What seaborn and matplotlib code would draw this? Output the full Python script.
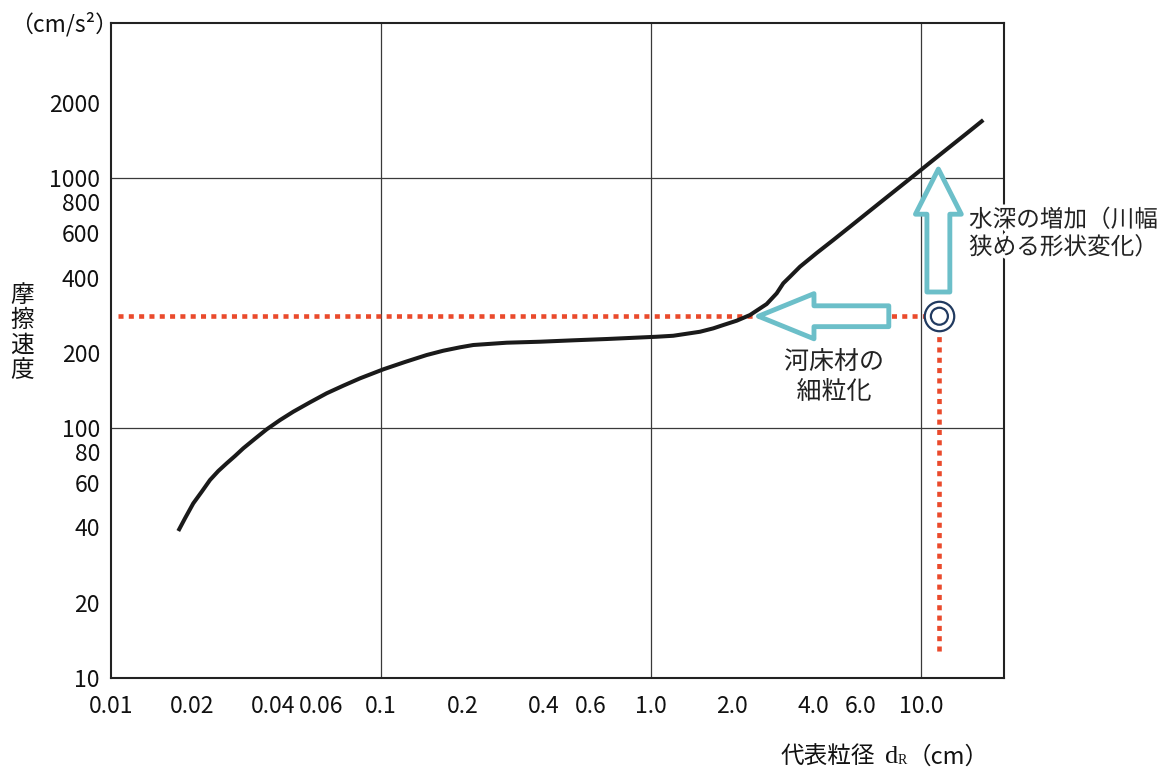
import matplotlib
matplotlib.use("Agg")
import matplotlib.pyplot as plt
import matplotlib.patheffects as pe
from matplotlib.ticker import NullLocator
import numpy as np
import pandas as pd
import seaborn as sns

# ---------------- data ----------------
grain_cm = [0.01775, 0.01880, 0.02017, 0.02168, 0.02326, 0.02497, 0.02682,
            0.02879, 0.0309, 0.03415, 0.03773, 0.04227, 0.04733, 0.05458,
            0.06293, 0.07251, 0.0836, 0.102, 0.1227, 0.1477, 0.1701, 0.1962,
            0.2197, 0.2921, 0.388, 0.5157, 0.6853, 1.050, 1.209, 1.519,
            1.701, 1.853, 2.077, 2.326, 2.682, 2.921, 3.090, 3.272, 3.563,
            4.109, 4.733, 5.458, 6.293, 7.251, 8.360, 9.640, 11.10, 12.80,
            14.77, 17.01]
friction_vel = [38.73, 43.54, 49.96, 55.62, 61.94, 67.30, 72.24,
                77.27, 82.95, 90.62, 98.81, 107.6, 116.2, 126.7,
                137.7, 147.7, 158.0, 171.7, 183.7, 195.9, 203.8, 210.3,
                214.8, 219.4, 221.4, 224.3, 227.0, 231.8, 233.9, 242.7,
                250.4, 258.2, 268.7, 283.1, 313.3, 345.7, 379.2, 402.9, 441.8,
                501.2, 564.9, 638.6, 722.4, 816.6, 923.1, 1044.0, 1180.0, 1334.0,
                1509.0, 1706.0]

# present state (reference point) and guide lines
point_x = [11.7]
point_y = [280.0]
hline_x = [0.0106, 11.7]
hline_y = [280.0, 280.0]
vline_x = [11.7, 11.7]
vline_y = [280.0, 12.2]

# arrows: (tail, tip)
arrow_left_x = [7.6, 2.5]
arrow_left_y = [280.0, 280.0]
arrow_up_x = [11.6, 11.6]
arrow_up_y = [350.0, 1086.0]

x_ticks = [0.01, 0.02, 0.04, 0.06, 0.08, 0.1, 0.2, 0.4, 0.6, 0.8,
           1, 2, 4, 6, 8, 10]
x_ticklabels = ["0.01", "0.02", "0.04", "0.06", "", "0.1", "0.2", "0.4",
                "0.6", "", "1.0", "2.0", "4.0", "6.0", "", "10.0"]
y_ticks = [10, 20, 40, 60, 80, 100, 200, 400, 600, 800, 1000, 2000]
y_ticklabels = ["10", "20", "40", "60", "80", "100", "200", "400", "600",
                "800", "1000", "2000"]
grid_x = [0.1, 1, 10]
grid_y = [100, 1000]

x_limits = (0.01, 20.3)
y_limits = (10, 4170)

# ---------------- style ----------------
sns.set_theme(style="white")
plt.rcParams['font.family'] = ['Noto Sans CJK JP', 'DejaVu Sans']

W, H = 1175, 776
fig = plt.figure(figsize=(W / 100, H / 100), dpi=100)
ax = fig.add_axes([111 / W, 98 / H, 893 / W, 655 / H])

CJK = ['Noto Sans CJK JP', 'DejaVu Sans']
SERIF = ["Liberation Serif", "DejaVu Serif"]
RED = "#EA4A2C"
CYAN = "#6CBFC9"
NAVY = "#213A60"
INK = "#222222"

ax.set_xscale("log")
ax.set_yscale("log")
ax.set_xlim(*x_limits)
ax.set_ylim(*y_limits)

# grid lines
for gx in grid_x:
    ax.axvline(gx, color="#3a3a3a", lw=0.9, zorder=1)
for gy in grid_y:
    ax.axhline(gy, color="#3a3a3a", lw=0.9, zorder=1)

# main curve
df = pd.DataFrame({"d": grain_cm, "u": friction_vel})
sns.lineplot(data=df, x="d", y="u", ax=ax, color="#1a1a1a", lw=2.9,
             sort=True, zorder=4)
for ln in ax.lines:
    ln.set_solid_joinstyle("round")
    ln.set_solid_capstyle("butt")

# red dotted guides
ax.plot(hline_x, hline_y, color=RED, lw=3.3, ls=(0, (1.1, 1.15)),
        dash_capstyle="butt", zorder=3)
ax.plot(vline_x, vline_y, color=RED, lw=3.3, ls=(0, (1.1, 1.15)),
        dash_capstyle="butt", zorder=3)

# outline arrows
ax.annotate("", xy=(arrow_left_x[1], arrow_left_y[1]),
            xytext=(arrow_left_x[0], arrow_left_y[0]),
            arrowprops=dict(arrowstyle="simple,head_length=4.0,head_width=3.25,tail_width=1.5",
                            fc="white", ec=CYAN, lw=3.5, mutation_scale=10,
                            shrinkA=0, shrinkB=0), zorder=5)
ax.annotate("", xy=(arrow_up_x[1], arrow_up_y[1]),
            xytext=(arrow_up_x[0], arrow_up_y[0]),
            arrowprops=dict(arrowstyle="simple,head_length=3.25,head_width=3.3,tail_width=1.65",
                            fc="white", ec=CYAN, lw=3.5, mutation_scale=10,
                            shrinkA=0, shrinkB=0), zorder=5)

# double circle
ax.scatter(point_x, point_y, s=450, facecolors="white", edgecolors=NAVY,
           linewidths=1.6, zorder=6)
ax.scatter(point_x, point_y, s=150, facecolors="none", edgecolors=NAVY,
           linewidths=1.6, zorder=7)

# ticks
ax.set_xticks(x_ticks, x_ticklabels)
ax.set_yticks(y_ticks, y_ticklabels)
ax.xaxis.set_minor_locator(NullLocator())
ax.yaxis.set_minor_locator(NullLocator())
ax.tick_params(axis="both", which="major", direction="in", length=9.5,
               width=1.3, color=INK, labelsize=16.5, labelcolor="#111111")
ax.tick_params(axis="x", pad=12)
ax.tick_params(axis="y", pad=8)
ax.set_xlabel("")
ax.set_ylabel("")
ax.grid(False)
for sp in ax.spines.values():
    sp.set_color(INK)
    sp.set_linewidth(1.5)
    sp.set_visible(True)

def fx(px):
    return px / W

def fy(py):
    return 1 - py / H

white = [pe.withStroke(linewidth=5, foreground="white")]

# axis labels
fig.text(fx(64), fy(24), "（cm/s²）", ha="center", va="center",
         fontsize=16.5, family=CJK, color="#111111")
fig.text(fx(22), fy(333), "摩\n擦\n速\n度", ha="center", va="center",
         fontsize=17, family=CJK, color="#111111", linespacing=1.12)
fig.text(fx(781), fy(757), "代表粒径", ha="left", va="center",
         fontsize=17, family=CJK, color="#111111")
fig.text(fx(885), fy(757), "d", ha="left", va="center",
         fontsize=19, family=SERIF, color="#111111")
fig.text(fx(898), fy(761), "R", ha="left", va="center",
         fontsize=10, family=SERIF, color="#111111")
fig.text(fx(908), fy(757), "（cm）", ha="left", va="center",
         fontsize=17, family=CJK, color="#111111")

# annotations
fig.text(fx(969), fy(234), "水深の増加（川幅\n狭める形状変化）", ha="left",
         va="center", fontsize=17, family=CJK, color="#222222",
         linespacing=1.25, path_effects=white)
fig.text(fx(834), fy(377), "河床材の\n細粒化", ha="center", va="center",
         fontsize=18, family=CJK, color="#222222", linespacing=1.2,
         multialignment="center", path_effects=white)

fig.savefig("out.png", dpi=100)
